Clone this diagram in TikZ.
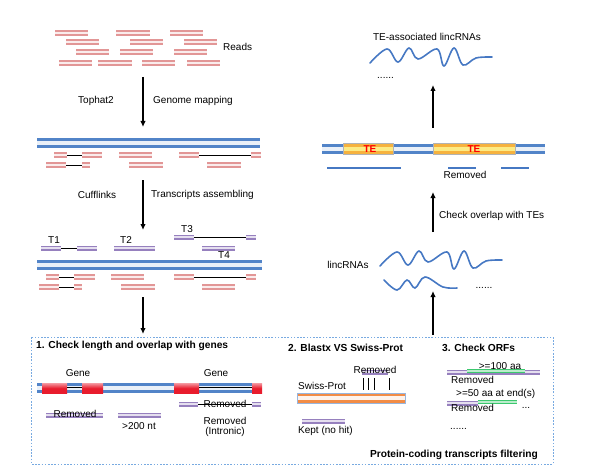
\documentclass[tikz,border=0pt]{standalone}
\usepackage{fontspec}
\setmainfont{Liberation Sans}
\usetikzlibrary{arrows.meta}
\definecolor{readpink}{RGB}{226,150,150}
\definecolor{genomeblue}{RGB}{82,132,200}
\definecolor{txpurple}{RGB}{150,128,190}
\definecolor{genered}{RGB}{232,28,45}
\definecolor{teorange}{RGB}{246,178,62}
\definecolor{protorange}{RGB}{242,140,70}
\definecolor{orfgreen}{RGB}{60,200,110}
\definecolor{boxblue}{RGB}{120,170,225}
\definecolor{waveblue}{RGB}{70,120,195}

\begin{document}
\begin{tikzpicture}[x=1pt,y=-1pt,font=\fontsize{10}{12}\selectfont]
\tikzstyle{read}=[draw=readpink,line width=1.7pt,double=readpink!18,double distance=2.4pt]
\tikzstyle{genome}=[draw=genomeblue,line width=2.8pt,double=genomeblue!12,double distance=4pt]
\tikzstyle{transcript}=[draw=txpurple,line width=1.5pt,double=white!75!txpurple,double distance=2pt]
\tikzstyle{orf}=[draw=orfgreen,line width=1.3pt,double=white!65!orfgreen,double distance=1.4pt]
\tikzstyle{intron}=[draw=black,line width=0.8pt]
\tikzstyle{flow}=[line width=1.3pt,-{Latex[length=6pt,width=5.5pt]}]
\tikzstyle{rnawave}=[draw=waveblue,line width=1.6pt,line cap=round]
\tikzstyle{lbl}=[inner sep=0pt]
\tikzstyle{title}=[inner sep=0pt,font=\fontsize{10.2}{12}\selectfont\bfseries]
\tikzset{pics/lincwave/.style={code={
  \draw[rnawave] plot[smooth,tension=0.6] coordinates {(0,0) (17,-14) (28,-1) (39,-15) (48,-4) (67,-14) (74,3) (84,-15) (93,2) (106,-5) (122,-6)};
}}}
\useasboundingbox (0,0) rectangle (597,476);

% reads
\foreach \a/\b/\y in {55/88/33,116/150/33,170/203/33,66/99/42,130/163/42,184/217/42,
  76/109/52,120/153/52,174/207/52,59/92/63,98/132/63,142/175/63,187/220/63}
  \draw[read] (\a,\y) -- (\b,\y);
\node[lbl,anchor=west] (reads) at (223,47) {Reads};

% mapping
\coordinate (map0) at (143,77);
\coordinate (map1) at (143,127);
\draw[flow] (map0) -- (map1);
\node[lbl] (tophat) at (96,101) {Tophat2};
\node[lbl,anchor=west] (mapping) at (153,101) {Genome mapping};

\draw[genome] (37,143) -- (260,143);
\foreach \a/\b/\y in {54/67/155,82/102/155,119/152/155,179/199/155,251/261/155,
  46/66/165,82/90/165,129/163/165,207/241/165}
  \draw[read] (\a,\y) -- (\b,\y);
\draw[intron] (67,155) -- (82,155);
\draw[intron] (199,155) -- (251,155);
\draw[intron] (66,165) -- (82,165);

% assembling
\coordinate (asm0) at (143,180);
\coordinate (asm1) at (143,230);
\draw[flow] (asm0) -- (asm1);
\node[lbl] (cufflinks) at (97,195) {Cufflinks};
\node[lbl,anchor=west] (assembling) at (151,195) {Transcripts assembling};

\foreach \a/\b/\y in {41/61/248,77/97/248,114/155/248,174/194/237,246/256/237,202/235/248}
  \draw[transcript] (\a,\y) -- (\b,\y);
\draw[intron] (61,248) -- (77,248);
\draw[intron] (194,237) -- (246,237);
\node[lbl] (t1) at (54,240) {T1};
\node[lbl] (t2) at (126,240) {T2};
\node[lbl] (t3) at (187,229) {T3};
\node[lbl] (t4) at (224,255) {T4};

\draw[genome] (37,265) -- (262,265);
\foreach \a/\b/\y in {46/59/277,74/95/277,111/144/277,174/194/277,246/256/277,
  39/59/287,74/82/287,121/155/287,202/235/287}
  \draw[read] (\a,\y) -- (\b,\y);
\draw[intron] (59,277) -- (74,277);
\draw[intron] (194,277) -- (246,277);
\draw[intron] (59,287) -- (74,287);

\coordinate (filt0) at (143,297);
\coordinate (filt1) at (143,334);
\draw[flow] (filt0) -- (filt1);

% filtering box
\draw[boxblue,line width=0.8pt,dash pattern=on 1.6pt off 1.6pt] (31,337) rectangle (553,464);
\node[title,anchor=west] (step1) at (36,346) {1. Check length and overlap with genes};
\node[title,anchor=west] (step2) at (288,348) {2. Blastx VS Swiss-Prot};
\node[title,anchor=west] (step3) at (442,348) {3. Check ORFs};
\node[title,anchor=east] (filtering) at (538,455) {Protein-coding transcripts filtering};

% 1. length and genes
\node[lbl] (gene1) at (78,373) {Gene};
\node[lbl] (gene2) at (216,373) {Gene};
\draw[genome] (37,388) -- (261,388);
\foreach \a/\b in {42/67,82/103,174/199,252/262}
  \shade[top color=white!55!genered,bottom color=genered,middle color=genered] (\a,383) rectangle (\b,393.5);
\draw[black,line width=1.4pt] (67,387.5) -- (82,387.5);
\draw[black,line width=1.4pt] (199,387.5) -- (252,387.5);
\draw[transcript] (46,415) -- (103,415);
\node[lbl] (rm1) at (75,414) {Removed};
\draw[transcript] (118,415) -- (161,415);
\node[lbl] (len) at (139,426) {>200 nt};
\draw[transcript] (179,404) -- (198,404);
\draw[transcript] (252,404) -- (261,404);
\draw[intron] (198,404) -- (252,404);
\node[lbl] (rm2) at (225,404) {Removed};
\node[lbl] (rm3) at (225,421) {Removed};
\node[lbl] (intronic) at (225,432) {(Intronic)};

% 2. blastx
\draw[transcript] (362,372) -- (388,372);
\node[lbl] (rm4) at (375,370) {Removed};
\foreach \x in {363,368,374,389}
  \draw[intron] (\x,378) -- (\x,390);
\node[lbl,anchor=west] (swiss) at (298,386) {Swiss-Prot};
\draw[draw=protorange,line width=2.6pt,double=protorange!10,double distance=4.2pt] (297,398) -- (405,398);
\draw[genomeblue!60,line width=0.4pt] (297,393) rectangle (405,403);
\draw[transcript] (302,421) -- (345,421);
\node[lbl,anchor=west] (kept) at (298,431) {Kept (no hit)};

% 3. orfs
\node[lbl] (orf100) at (500,366) {>=100 aa};
\draw[transcript] (447,372) -- (540,372);
\draw[orf] (467,371) -- (525,371);
\node[lbl,anchor=west] (rm5) at (451,380) {Removed};
\node[lbl,anchor=west] (orf50) at (456,394) {>=50 aa at end(s)};
\draw[transcript] (447,403) -- (478,403);
\draw[orf] (478,402) -- (517,402);
\node[lbl,anchor=base] (more1) at (526,408) {...};
\node[lbl,anchor=west] (rm6) at (451,408) {Removed};
\node[lbl,anchor=west] (more2) at (450,429) {......};

% lincRNAs
\coordinate (linc0) at (433,335);
\coordinate (linc1) at (433,291);
\draw[flow] (linc0) -- (linc1);
\node[lbl] (lincrnas) at (348,265) {lincRNAs};
\pic at (380,266) {lincwave};
\draw[rnawave] plot[smooth,tension=0.6] coordinates {(384,280) (397,290) (407,280) (415,288) (425,277) (443,287) (457,288)};
\node[lbl] (more3) at (484,288) {......};

\coordinate (te0) at (433,232);
\coordinate (te1) at (433,192);
\draw[flow] (te0) -- (te1);
\node[lbl,anchor=west] (overlap) at (439,216) {Check overlap with TEs};

% TE overlap
\draw[genome] (322,149) -- (545,149);
\foreach \a/\b in {343/393,433/515}{
  \draw[draw=teorange,line width=2.6pt,double=white!60!yellow!80!teorange,double distance=4.2pt] (\a,149) -- (\b,149);
  \draw[gray!60,line width=0.3pt] (\a,143.5) rectangle (\b,154.5);
}
\node[lbl,text=red,font=\fontsize{10}{12}\selectfont\bfseries] (te1l) at (370,149) {TE};
\node[lbl,text=red,font=\fontsize{10}{12}\selectfont\bfseries] (te2l) at (474,149) {TE};
\draw[waveblue,line width=1.3pt] (327,168) -- (401,168);
\draw[waveblue,line width=1.3pt] (448,168) -- (476,168);
\draw[waveblue,line width=1.3pt] (501,168) -- (529,168);
\node[lbl] (rm7) at (465,175) {Removed};

\coordinate (tel0) at (433,128);
\coordinate (tel1) at (433,85);
\draw[flow] (tel0) -- (tel1);
\node[lbl] (telinc) at (427,37) {TE-associated lincRNAs};
\pic at (370,63) {lincwave};
\node[lbl,anchor=west] (more4) at (377,78) {......};
\end{tikzpicture}
\end{document}
